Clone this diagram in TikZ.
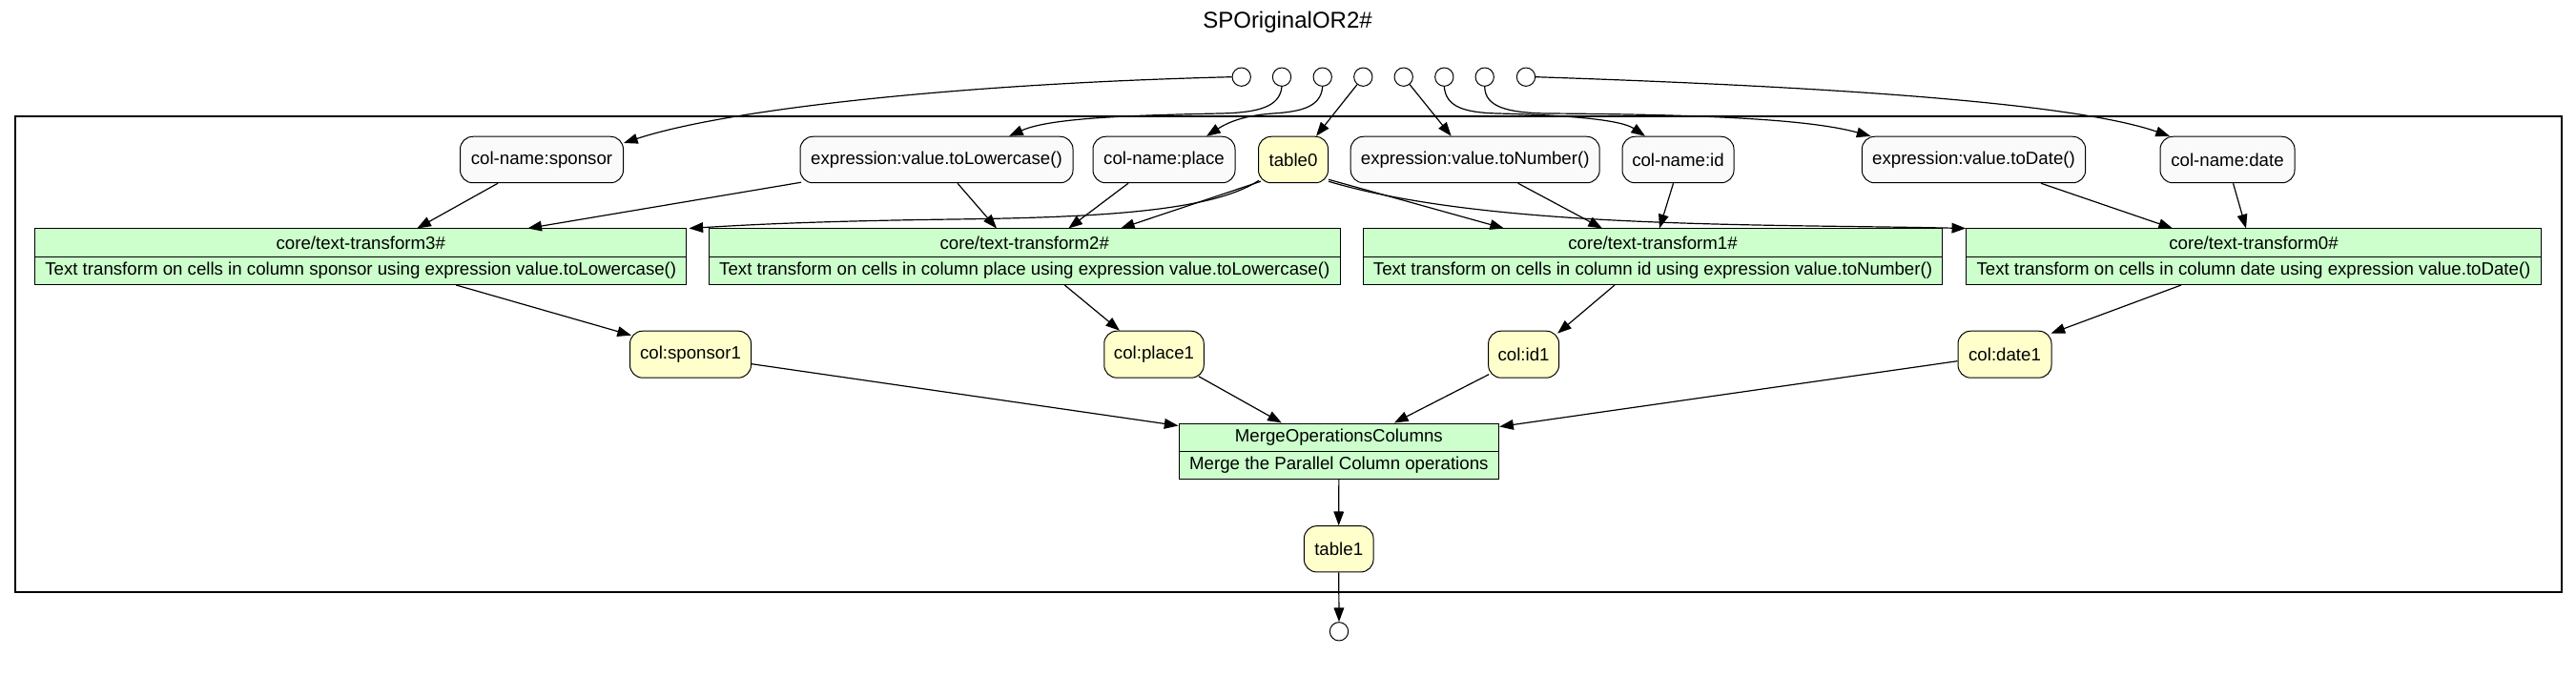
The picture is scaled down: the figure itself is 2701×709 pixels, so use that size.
\documentclass[tikz,border=0pt]{standalone}
\usepackage{fontspec}
\setmainfont{Liberation Sans}
\usetikzlibrary{arrows.meta,calc}
\definecolor{ngray}{HTML}{FAFAFA}
\definecolor{nyellow}{HTML}{FFFFCC}
\definecolor{ngreen}{HTML}{CCFFCC}
\begin{document}
\begin{tikzpicture}[x=0.75pt,y=-0.75pt,
 nsize/.style 2 args={minimum width=#1*0.75pt, minimum height=#2*0.75pt},
 lbl/.style={inner sep=0pt, font=\fontsize{14}{16}\selectfont},
 gnode/.style={lbl, draw, line width=0.75pt, rounded corners=10pt, fill=ngray},
 ynode/.style={gnode, fill=nyellow},
 rec/.style={draw, line width=0.75pt, fill=ngreen, inner sep=0pt},
 port/.style={draw, circle, line width=0.75pt, minimum size=14.5pt, inner sep=0pt, fill=white},
 conn/.style={-{Triangle[length=11pt,width=8pt]}, line width=0.9pt},
 clus/.style={draw, line width=1.5pt},
]
\useasboundingbox (0,0) rectangle (2701,709);
\fill[white] (0,0) rectangle (2701,709);

% title
\node[lbl, font=\fontsize{18}{21}\selectfont, anchor=base] (title) at (1350,30) {SPOriginalOR2\#};

% cluster
\draw[clus] (16,122) rectangle (2686,621);

% ports
\node[port] (c1) at (1301.7,80.7) {};
\node[port] (c2) at (1344,80.7) {};
\node[port] (c3) at (1386.7,80.7) {};
\node[port] (c4) at (1429.3,80.7) {};
\node[port] (c5) at (1471.7,80.7) {};
\node[port] (c6) at (1514.3,80.7) {};
\node[port] (c7) at (1556.7,80.7) {};
\node[port] (c8) at (1600,80.7) {};
\node[port] (out) at (1404,662.3) {};

% top row
\node[gnode, nsize={171}{48.5}] (sp) at (568,167.5) {col-name:sponsor};
\node[gnode, nsize={286}{48.5}] (low) at (982,167.5) {expression:value.toLowercase()};
\node[gnode, nsize={149}{48.5}] (pl) at (1220.5,167.5) {col-name:place};
\node[ynode, nsize={73}{48.5}] (t0) at (1356,167.5) {table0};
\node[gnode, nsize={261}{48.5}] (num) at (1546.7,167.5) {expression:value.toNumber()};
\node[gnode, nsize={117}{48.5}] (id) at (1759.5,167.5) {col-name:id};
\node[gnode, nsize={234.4}{48.5}] (dt) at (2069.5,167.5) {expression:value.toDate()};
\node[gnode, nsize={141}{48.5}] (da) at (2335.5,167.5) {col-name:date};

% records
\node[rec, nsize={683.3}{58.5}] (tt3) at (378.3,269.25) {};
\node[rec, nsize={662}{58.5}] (tt2) at (1074.3,269.25) {};
\node[rec, nsize={607.4}{58.5}] (tt1) at (1733,269.25) {};
\node[rec, nsize={602.6}{58.5}] (tt0) at (2363,269.25) {};
\foreach \r in {tt3,tt2,tt1,tt0} {\draw[line width=0.75pt] (\r.west) -- (\r.east);}
\node[lbl] (tt3a) at ($(tt3.center)+(0,-14.5)$) {core/text-transform3\#};
\node[lbl] (tt3b) at ($(tt3.center)+(0,14.75)$) {Text transform on cells in column sponsor using expression value.toLowercase()};
\node[lbl] (tt2a) at ($(tt2.center)+(0,-14.5)$) {core/text-transform2\#};
\node[lbl] (tt2b) at ($(tt2.center)+(0,14.75)$) {Text transform on cells in column place using expression value.toLowercase()};
\node[lbl] (tt1a) at ($(tt1.center)+(0,-14.5)$) {core/text-transform1\#};
\node[lbl] (tt1b) at ($(tt1.center)+(0,14.75)$) {Text transform on cells in column id using expression value.toNumber()};
\node[lbl] (tt0a) at ($(tt0.center)+(0,-14.5)$) {core/text-transform0\#};
\node[lbl] (tt0b) at ($(tt0.center)+(0,14.75)$) {Text transform on cells in column date using expression value.toDate()};

% third row
\node[ynode, nsize={127}{49}] (s1) at (724,371.7) {col:sponsor1};
\node[ynode, nsize={104.5}{49}] (p1) at (1210,371.7) {col:place1};
\node[ynode, nsize={74}{49}] (i1) at (1597.6,371.7) {col:id1};
\node[ynode, nsize={98}{49}] (d1) at (2102,371.7) {col:date1};

% merge
\node[rec, nsize={335.7}{58.7}] (mg) at (1403.85,473.35) {};
\draw[line width=0.75pt] (mg.west) -- (mg.east);
\node[lbl] (mga) at ($(mg.center)+(0,-14.6)$) {MergeOperationsColumns};
\node[lbl] (mgb) at ($(mg.center)+(0,14.6)$) {Merge the Parallel Column operations};

\node[ynode, nsize={72.7}{48.3}] (t1) at (1403.7,575.8) {table1};

% edges from ports
\draw[conn] (c1.west) .. controls (1000,88) and (760,115) .. ($(sp.east)+(0,-17.5)$);
\draw[conn] (c2.south) .. controls (1342,112) and (1320,118) .. (1280,119) .. controls (1180,121) and (1100,124) .. ($(low.north)+(76,0)$);
\draw[conn] (c3.south) .. controls (1385,112) and (1365,117) .. (1335,119) .. controls (1305,121) and (1288,128) .. ($(pl.north)+(44.5,0)$);
\draw[conn] (c4) -- ($(t0.north)+(24,0)$);
\draw[conn] (c5) -- ($(num.north)+(-25,0)$);
\draw[conn] (c6.south) .. controls (1516,112) and (1535,118) .. (1570,119) .. controls (1650,121) and (1700,126) .. ($(id.north)+(-34.5,0)$);
\draw[conn] (c7.south) .. controls (1557,112) and (1580,118) .. (1620,119) .. controls (1800,120) and (1900,126) .. ($(dt.north)+(-108,0)$);
\draw[conn] (c8.east) .. controls (1950,92) and (2180,110) .. ($(da.north)+(-60.5,0)$);

% top row to records
\draw[conn] ($(sp.south)+(-46,0)$) -- ($(tt3.north)+(59,0)$);
\draw[conn] ($(low.south)+(-142,-1)$) -- ($(tt3.north)+(175,0)$);
\draw[conn] ($(t0.south west)+(1,-3)$) .. controls (1270,222) and (1150,228) .. (1000,230) .. controls (850,232) and (780,236) .. ($(tt3.north east)+(2,0)$);
\draw[conn] ($(low.south)+(22,0)$) -- ($(tt2.north)+(-29.3,0)$);
\draw[conn] ($(pl.south)+(-37.5,0)$) -- ($(tt2.north)+(46,0)$);
\draw[conn] ($(t0.south west)+(3,-2)$) -- ($(tt2.north)+(100.7,0)$);
\draw[conn] ($(t0.south east)+(0,-4)$) -- ($(tt1.north)+(-156,0)$);
\draw[conn] ($(t0.south east)+(0,-2)$) .. controls (1560,240) and (1850,235) .. ($(tt0.north west)+(0,0)$);
\draw[conn] ($(num.south)+(45,0)$) -- ($(tt1.north)+(-53,0)$);
\draw[conn] ($(id.south)+(-5,0)$) -- ($(tt1.north)+(7,0)$);
\draw[conn] ($(dt.south)+(70.5,0)$) -- ($(tt0.north)+(-85,0)$);
\draw[conn] ($(da.south)+(6,0)$) -- ($(tt0.north)+(-8,0)$);

% records to third row
\draw[conn] ($(tt3.south)+(100,0)$) -- ($(s1.north west)+(2,5)$);
\draw[conn] ($(tt2.south)+(42,0)$) -- ($(p1.north)+(-36,0)$);
\draw[conn] ($(tt1.south)+(-40,0)$) -- ($(i1.north east)+(-2,3)$);
\draw[conn] ($(tt0.south)+(-76,0)$) -- ($(d1.north east)+(-1,3)$);

% third row to merge
\draw[conn] ($(s1.east)+(0,10)$) -- ($(mg.north west)+(0,3)$);
\draw[conn] ($(p1.south east)+(-6,-2)$) -- ($(mg.north)+(-60,0)$);
\draw[conn] ($(i1.south west)+(1,-4)$) -- ($(mg.north)+(58,0)$);
\draw[conn] ($(d1.west)+(0,7)$) -- ($(mg.north east)+(0,4)$);

\draw[conn] (mg.south) -- (t1.north);
\draw[conn] (t1.south) -- (out.north);
\end{tikzpicture}
\end{document}
